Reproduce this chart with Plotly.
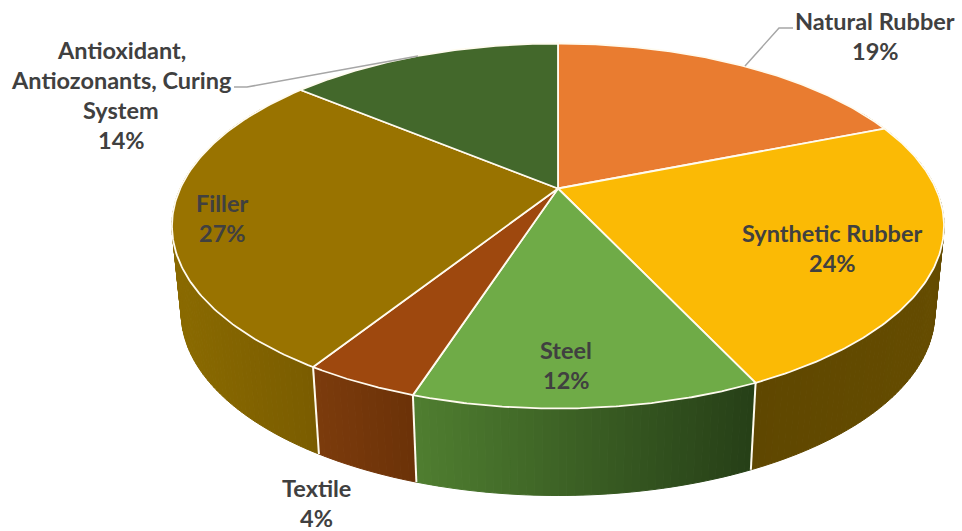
import numpy as np
import plotly.graph_objects as go

# Composition of the tyre, in percent, clockwise from twelve o'clock
materials = ["Natural Rubber", "Synthetic Rubber", "Steel", "Textile", "Filler",
             "Antioxidant, Antiozonants, Curing System"]
shares = [19, 24, 12, 4, 27, 14]
top_colors = ["#E97C30", "#FBBA05", "#6FAB47", "#9E480E", "#997300", "#43682B"]
# Rim shading of each slice, from its left end to its right end
rim_left = ["#8A4A1E", "#5F4700", "#4F7E30", "#7C3B0C", "#8A6A00", "#32501F"]
rim_right = ["#8A4A1E", "#654C00", "#263F17", "#6B3208", "#7A5C00", "#32501F"]

# Label lines and their centres on the page
label_lines = [
    ["Natural Rubber", "19%"],
    ["Synthetic Rubber", "24%"],
    ["Steel", "12%"],
    ["Textile", "4%"],
    ["Filler", "27%"],
    ["Antioxidant,", "Antiozonants, Curing", "System", "14%"],
]
label_x = [875, 832, 566, 316, 222, 121]
label_first_y = [21, 233, 350, 488, 203, 50]
label_color = ["#404040"] * 6

# Tilted-disc projection onto page pixels
CX, CY = 558.0, 188.5
A, B, K = 377.8, 174.8, 0.2055
DEPTH, BASE_SCALE = 87.0, 0.976
EDGE = "#FFFBEF"


def project(theta, radius=1.0):
    x = radius * np.sin(theta)
    y = radius * np.cos(theta)
    w = 1 + K * y
    return CX + A * x / w, CY - B * y / w


def project_base(theta):
    px, py = project(theta)
    return CX + BASE_SCALE * (px - CX), py + DEPTH


def blend(c1, c2, t):
    a = [int(c1[i:i + 2], 16) for i in (1, 3, 5)]
    b = [int(c2[i:i + 2], 16) for i in (1, 3, 5)]
    return "#" + "".join(f"{round(p + (q - p) * t):02X}" for p, q in zip(a, b))


edges = np.cumsum([0] + shares) / sum(shares) * 2 * np.pi
fig = go.Figure()


def add_poly(xs, ys, fill, line_color=None, line_width=1.0, closed=True):
    fig.add_trace(go.Scatter(
        x=xs, y=ys, mode="lines", fill="toself" if closed else None,
        fillcolor=fill, line=dict(color=line_color or fill, width=line_width),
        hoverinfo="skip", showlegend=False))


# Side wall: thin strips so each slice can carry its horizontal shading
WALL_FROM, WALL_TO = np.radians(62), np.radians(300)
for i in range(len(shares)):
    lo, hi = max(edges[i], WALL_FROM), min(edges[i + 1], WALL_TO)
    if hi <= lo:
        continue
    n = max(2, int(np.degrees(hi - lo)))
    ts = np.linspace(lo, hi, n + 1)
    xs_all = [project(t)[0] for t in ts]
    left, right = min(xs_all), max(xs_all)
    for a0, a1 in zip(ts[:-1], ts[1:]):
        tx0, ty0 = project(a0)
        tx1, ty1 = project(a1)
        bx0, by0 = project_base(a0)
        bx1, by1 = project_base(a1)
        t = ((tx0 + tx1) / 2 - left) / max(right - left, 1)
        add_poly([tx0, tx1, bx1, bx0, tx0], [ty0, ty1, by1, by0, ty0],
                 blend(rim_left[i], rim_right[i], t))

# White seams between slices on the wall
for i in range(1, len(shares)):
    if WALL_FROM <= edges[i] <= WALL_TO and edges[i] > WALL_FROM:
        tx, ty = project(edges[i])
        bx, by = project_base(edges[i])
        add_poly([tx, bx], [ty, by], EDGE, EDGE, 2.0, closed=False)

# Top face
for i in range(len(shares)):
    ts = np.linspace(edges[i], edges[i + 1], 120)
    pts = [project(t) for t in ts]
    xs = [CX] + [p[0] for p in pts] + [CX]
    ys = [CY] + [p[1] for p in pts] + [CY]
    add_poly(xs, ys, top_colors[i], EDGE, 1.8)

# Leader lines from the outer labels
add_poly([234, 247, 418], [87, 87, 56], "#A6A6A6", "#A6A6A6", 1.5, closed=False)
add_poly([793, 779, 745], [28, 28, 66], "#A6A6A6", "#A6A6A6", 1.5, closed=False)

LINE_STEP = 30
for lines, lx, ly, color in zip(label_lines, label_x, label_first_y, label_color):
    for j, text in enumerate(lines):
        fig.add_annotation(x=lx, y=ly + j * LINE_STEP, text=f"<b>{text}</b>",
                           showarrow=False, xanchor="center", yanchor="middle",
                           font=dict(family="Lato", size=23.5, color=color))

fig.update_xaxes(range=[0, 962], visible=False, fixedrange=True)
fig.update_yaxes(range=[531, 0], visible=False, fixedrange=True)
fig.update_layout(width=962, height=531, margin=dict(l=0, r=0, t=0, b=0),
                  paper_bgcolor="white", plot_bgcolor="white", showlegend=False)
fig.write_html("out.html", config=dict(displayModeBar=False))
